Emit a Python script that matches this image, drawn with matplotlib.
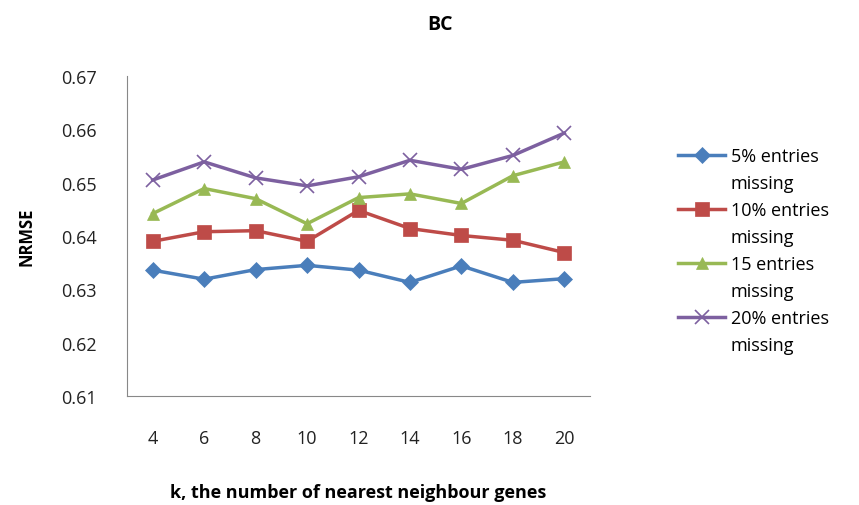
import matplotlib.pyplot as plt
from matplotlib.lines import Line2D

plt.rcParams['font.family'] = ['Open Sans', 'DejaVu Sans']

k = [4, 6, 8, 10, 12, 14, 16, 18, 20]
miss5 = [0.6336, 0.6319, 0.6337, 0.6345, 0.6336, 0.6313, 0.6344, 0.6313, 0.6320]
miss10 = [0.6390, 0.6408, 0.6410, 0.6390, 0.6448, 0.6414, 0.6401, 0.6392, 0.6369]
miss15 = [0.6442, 0.6489, 0.6470, 0.6423, 0.6472, 0.6479, 0.6461, 0.6513, 0.6539]
miss20 = [0.6505, 0.6539, 0.6509, 0.6494, 0.6511, 0.6542, 0.6525, 0.6551, 0.6593]

labels = ['5% entries', '10% entries', '15 entries', '20% entries']
colors = ['#4A7EBB', '#BE4B48', '#98B954', '#7D60A0']
markers = ['D', 's', '^', 'x']
sizes = [8, 10, 9, 10]

fig = plt.figure(figsize=(8.59, 5.06), dpi=100)
ax = fig.add_axes([127 / 859, 1 - 397 / 506, (590 - 127) / 859, (397 - 77) / 506])

# legend rows: "xx entries" with the marker, then "missing" without one
handles = []
leg_labels = []
for ys, lab, c, m, s in zip([miss5, miss10, miss15, miss20], labels, colors, markers, sizes):
    ln, = ax.plot(k, ys, color=c, marker=m, markersize=s, linewidth=2.5,
                  markeredgewidth=1.2 if m == 'x' else 0.5, markeredgecolor=c)
    handles += [ln, Line2D([], [], linestyle='none')]
    leg_labels += [lab, 'missing']

ax.set_xlim(3, 21)
ax.set_ylim(0.61, 0.67)
ax.set_xticks(k)
ax.set_yticks([0.61, 0.62, 0.63, 0.64, 0.65, 0.66, 0.67])
ax.set_yticklabels(['0.61', '0.62', '0.63', '0.64', '0.65', '0.66', '0.67'])
ax.tick_params(length=0, labelsize=13, colors='#222222')
ax.tick_params(axis='x', pad=24)
ax.tick_params(axis='y', pad=22)
for side in ['top', 'right']:
    ax.spines[side].set_visible(False)
for side in ['left', 'bottom']:
    ax.spines[side].set_color('#888888')

ax.set_xlabel('k, the number of nearest neighbour genes', fontsize=13,
              fontweight='bold', va='center')
ax.xaxis.set_label_coords(0.5, -(493 - 397) / (397 - 77))
ax.set_ylabel('NRMSE', fontsize=12, fontweight='bold', labelpad=18)
fig.text(440 / 859, 1 - 25 / 506, 'BC', fontsize=14, fontweight='bold',
         ha='center', va='center')

fig.legend(handles, leg_labels, loc='upper left',
           bbox_to_anchor=(662 / 859, 1 - 132 / 506),
           frameon=False, fontsize=13, handlelength=2.6, labelspacing=0.5,
           handletextpad=0.3)

fig.savefig('out.png', dpi=100)
